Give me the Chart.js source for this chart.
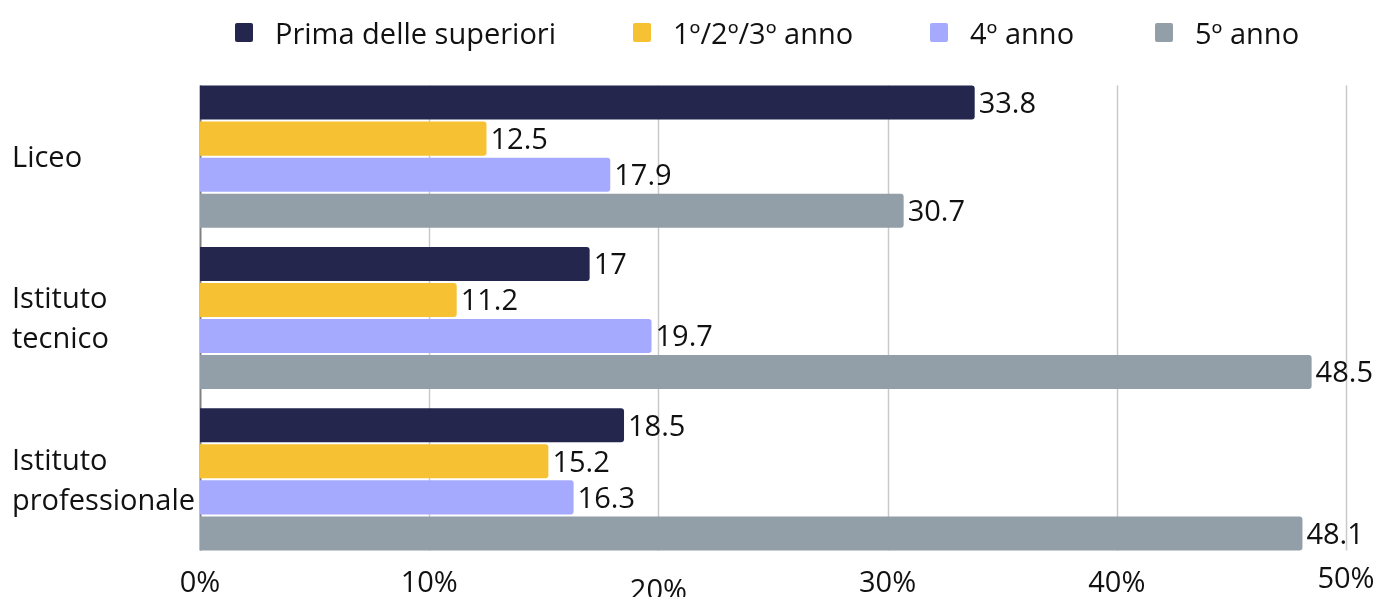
<!DOCTYPE html>
<html lang="it">
<head>
<meta charset="utf-8">
<script src="https://cdn.jsdelivr.net/npm/chart.js@4"></script>
<style>
  html, body { margin: 0; padding: 0; background: #fff; }
  body { width: 1373px; height: 597px; position: relative; overflow: hidden; font-family: "Open Sans", "Noto Sans", sans-serif; }
  #legend { position: absolute; left: 0; top: 12px; height: 40px; display: flex; align-items: center; font-size: 29px; color: #111; }
  .item { position: absolute; display: flex; align-items: center; white-space: nowrap; }
  .box { width: 18px; height: 19px; border-radius: 2px; margin-right: 22px; }
  #wrap { position: absolute; left: 0; top: 0; width: 1373px; height: 597px; }
</style>
</head>
<body>
<div id="wrap"><canvas id="chart"></canvas></div>
<div id="legend"></div>
<script>
const categories = ["Liceo", ["Istituto", "tecnico"], ["Istituto", "professionale"]];
const seriesNames = ["Prima delle superiori", "1º/2º/3º anno", "4º anno", "5º anno"];
const primaSuperiori = [33.8, 17, 18.5];
const anni123 = [12.5, 11.2, 15.2];
const anno4 = [17.9, 19.7, 16.3];
const anno5 = [30.7, 48.5, 48.1];
const tickValues = [0, 10, 20, 30, 40, 50];
const seriesColors = ["#24264e", "#f6c233", "#a5aaff", "#929ea8"];
const legendLeft = [235, 633, 930, 1155];

const fontFamily = '"Open Sans", "Noto Sans", sans-serif';

// legend as plain HTML so the spacing matches
const legend = document.getElementById("legend");
seriesNames.forEach((name, i) => {
  const item = document.createElement("div");
  item.className = "item";
  item.style.left = `${legendLeft[i]}px`;
  item.innerHTML = `<span class="box" style="background:${seriesColors[i]}"></span><span>${name}</span>`;
  legend.appendChild(item);
});

const barEnds = (chart) => {
  const first = chart.getDatasetMeta(0).data[0];
  const lastMeta = chart.getDatasetMeta(chart.data.datasets.length - 1);
  const last = lastMeta.data[lastMeta.data.length - 1];
  return [first.y - first.height / 2, last.y + last.height / 2];
};

const gridLines = {
  id: "gridLines",
  beforeDatasetsDraw(chart) {
    const { ctx } = chart;
    const x = chart.scales.x;
    const [top, bottom] = barEnds(chart);
    ctx.save();
    tickValues.forEach((v) => {
      const px = Math.round(x.getPixelForValue(v)) + 0.5;
      ctx.strokeStyle = v === 0 ? "#808080" : "#c9c9c9";
      ctx.lineWidth = v === 0 ? 2 : 1.5;
      ctx.beginPath();
      ctx.moveTo(px, top);
      ctx.lineTo(px, bottom);
      ctx.stroke();
    });
    ctx.restore();
  },
};

const valueLabels = {
  id: "valueLabels",
  afterDatasetsDraw(chart) {
    const { ctx } = chart;
    ctx.save();
    ctx.font = `29px ${fontFamily}`;
    ctx.fillStyle = "#111";
    ctx.textAlign = "left";
    ctx.textBaseline = "middle";
    chart.data.datasets.forEach((ds, di) => {
      chart.getDatasetMeta(di).data.forEach((bar, i) => {
        ctx.fillText(String(ds.data[i]), bar.x + 4, bar.y + 2);
      });
    });
    ctx.restore();
  },
};

const seriesData = [primaSuperiori, anni123, anno4, anno5];

new Chart(document.getElementById("chart"), {
  type: "bar",
  data: {
    labels: categories,
    datasets: seriesData.map((data, i) => ({
      label: seriesNames[i],
      data,
      backgroundColor: seriesColors[i],
      borderRadius: 3,
      borderSkipped: "start",
      categoryPercentage: 0.894,
      barPercentage: 0.944,
    })),
  },
  options: {
    indexAxis: "y",
    responsive: true,
    maintainAspectRatio: false,
    animation: false,
    layout: { padding: { top: 76, left: 12, right: 0, bottom: 0 } },
    plugins: {
      legend: { display: false },
      tooltip: { enabled: false },
    },
    scales: {
      x: {
        min: 0,
        max: 50,
        afterBuildTicks: (scale) => {
          scale.ticks = tickValues.map((value) => ({ value }));
        },
        afterFit: (scale) => {
          scale.height = 37;
          scale.paddingRight = 27;
        },
        border: { display: false },
        grid: { display: false, drawTicks: false },
        ticks: {
          padding: 6,
          color: "#111",
          maxRotation: 0,
          callback: (v) => `${v}%`,
          font: (ctx) => ({
            family: fontFamily,
            size: 29,
            lineHeight: ctx.tick && ctx.tick.value === 20 ? 1.75 : ctx.tick && ctx.tick.value === 50 ? 0.93 : 1.2,
          }),
        },
      },
      y: {
        afterFit: (scale) => {
          scale.width = 188;
        },
        border: { display: false },
        grid: { display: false, drawTicks: false },
        ticks: {
          crossAlign: "far",
          color: "#111",
          autoSkip: false,
          labelOffset: 2,
          font: { family: fontFamily, size: 29, lineHeight: 1.38 },
        },
      },
    },
  },
  plugins: [gridLines, valueLabels],
});
</script>
</body>
</html>
